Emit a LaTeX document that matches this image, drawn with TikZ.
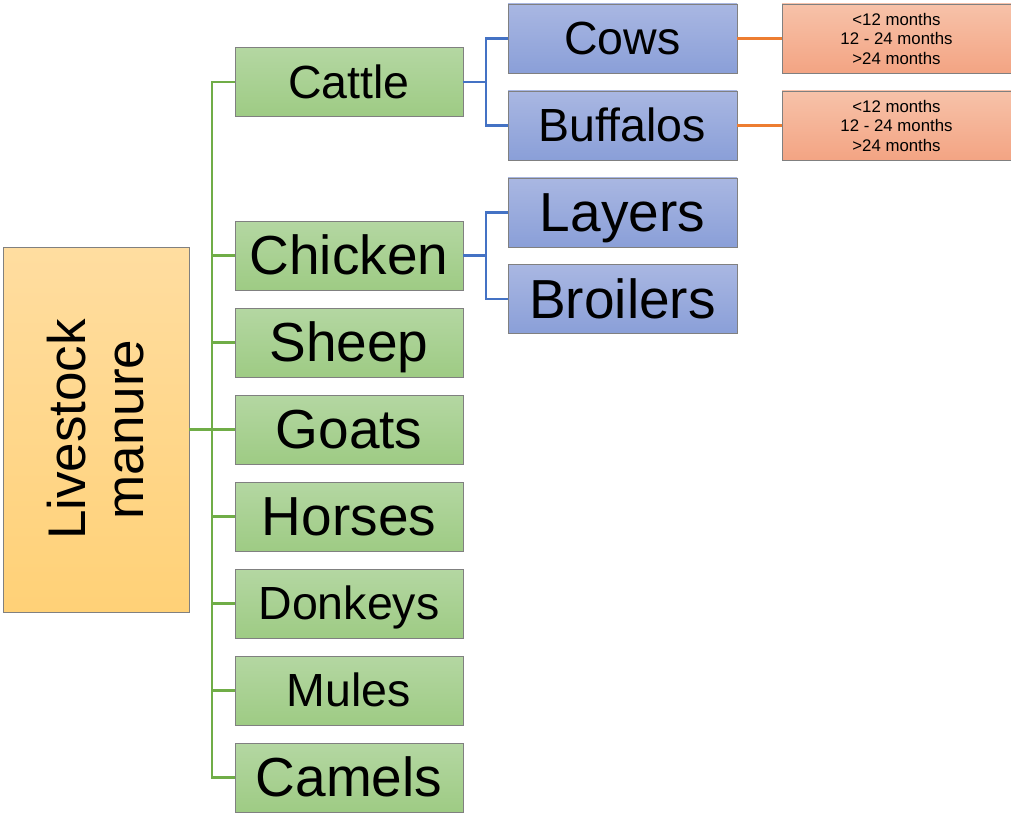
\documentclass[tikz,border=0pt]{standalone}
\usepackage{fontspec}
\setmainfont{Liberation Sans}
\begin{document}
\begin{tikzpicture}[x=1pt,y=-1pt,
  box/.style={draw=black!50, line width=0.8pt, inner sep=0pt, align=center},
  gbox/.style={box, minimum width=228pt, minimum height=69pt, top color=gtop, bottom color=gbot, font=\fontsize{55}{60}\selectfont, text height=49.8pt, text depth=11.7pt},
  gboxs/.style={gbox, font=\fontsize{46.5}{52}\selectfont, text height=42.1pt, text depth=9.9pt},
  bbox/.style={box, minimum width=229pt, minimum height=69pt, top color=btop, bottom color=bbot, font=\fontsize{55}{60}\selectfont, text height=49.8pt, text depth=11.7pt},
  bboxs/.style={bbox, font=\fontsize{46.5}{52}\selectfont, text height=42.1pt, text depth=9.9pt},
  obox/.style={box, minimum width=229pt, minimum height=69pt, top color=otop, bottom color=obot, font=\fontsize{16.8}{19.5}\selectfont},
  gline/.style={draw=lgreen, line width=2.2pt},
  bline/.style={draw=lblue, line width=2.2pt},
  oline/.style={draw=lorange, line width=2.2pt}]
\definecolor{gtop}{HTML}{B4D7A2}
\definecolor{gbot}{HTML}{9ECB84}
\definecolor{btop}{HTML}{A9B7E2}
\definecolor{bbot}{HTML}{8A9FD8}
\definecolor{otop}{HTML}{F7C2A9}
\definecolor{obot}{HTML}{F3A483}
\definecolor{rtop}{HTML}{FFDDA0}
\definecolor{rbot}{HTML}{FFD177}
\definecolor{lgreen}{HTML}{70AD47}
\definecolor{lblue}{HTML}{4472C4}
\definecolor{lorange}{HTML}{ED7D31}
\useasboundingbox (0,0) rectangle (1011,813);

\node[box, minimum width=186pt, minimum height=365pt, top color=rtop, bottom color=rbot] (root) at (96,429.5) {};
\node[rotate=90, align=center, font=\fontsize{53}{58}\selectfont] (rootlabel) at (root.center) {Livestock\\manure};

\node[gboxs] (cattle) at (349,82) {Cattle};
\node[gbox] (chicken) at (349,255.5) {Chicken};
\node[gbox] (sheep) at (349,342.5) {Sheep};
\node[gbox] (goats) at (349,429.5) {Goats};
\node[gbox] (horses) at (349,516.5) {Horses};
\node[gboxs] (donkeys) at (349,603.5) {Donkeys};
\node[gboxs] (mules) at (349,690.5) {Mules};
\node[gbox] (camels) at (349,777.5) {Camels};

\node[bboxs] (cows) at (622.5,38.5) {Cows};
\node[bboxs] (buffalos) at (622.5,125.5) {Buffalos};
\node[bbox] (layers) at (622.5,212.5) {Layers};
\node[bbox] (broilers) at (622.5,299) {Broilers};

\node[obox] (cowsage) at (896.5,38.5) {<12 months\\12 - 24 months\\>24 months};
\node[obox] (buffage) at (896.5,125.5) {<12 months\\12 - 24 months\\>24 months};

\coordinate (tk) at (212,429.5);
\coordinate (cb) at (486,82);
\coordinate (hb) at (486,255.5);

\draw[gline] (root.east) -- (tk);
\draw[gline] (cattle.west) -- (cattle.west -| tk) -- (camels.west -| tk) -- (camels.west);
\foreach \n in {chicken,sheep,goats,horses,donkeys,mules}
  \draw[gline] (\n.west) -- (\n.west -| tk);

\draw[bline] (cattle.east) -- (cb);
\draw[bline] (cows.west) -| (cb) |- (buffalos.west);
\draw[bline] (chicken.east) -- (hb);
\draw[bline] (layers.west) -| (hb) |- (broilers.west);

\draw[oline] (cows.east) -- (cowsage.west);
\draw[oline] (buffalos.east) -- (buffage.west);
\end{tikzpicture}
\end{document}
